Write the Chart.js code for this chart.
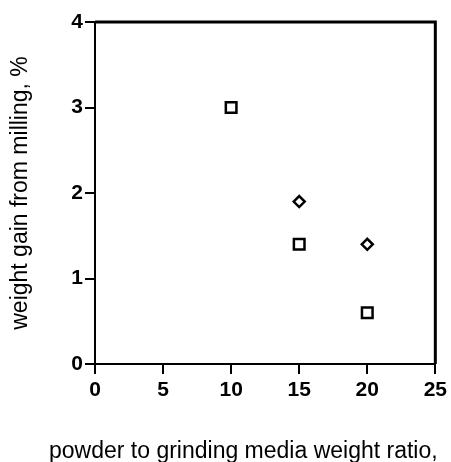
<!DOCTYPE html>
<html><head><meta charset="utf-8">
<script src="https://cdn.jsdelivr.net/npm/chart.js@4"></script>
<style>html,body{margin:0;padding:0;background:#fff}</style>
</head><body>
<canvas id="c" width="451" height="462"></canvas>
<script>
const xTicks = [0, 5, 10, 15, 20, 25];
const yTicks = [0, 1, 2, 3, 4];
const squareX = [10, 15, 20];
const squareY = [3, 1.4, 0.6];
const diamondX = [15, 20];
const diamondY = [1.9, 1.4];
const xTitle = 'powder to grinding media weight ratio,';
const yTitle = 'weight gain from milling, %';

const toPts = (xs, ys) => xs.map((x, i) => ({x: x, y: ys[i]}));

const framePlugin = {
  id: 'frame',
  afterDraw(chart) {
    const {ctx, chartArea: a} = chart;
    ctx.save();
    ctx.strokeStyle = '#000';
    ctx.lineWidth = 3;
    ctx.beginPath();
    ctx.moveTo(a.left, a.top);
    ctx.lineTo(a.right, a.top);
    ctx.lineTo(a.right, a.bottom);
    ctx.stroke();
    ctx.font = '23px "Liberation Sans", Arial, sans-serif';
    ctx.fillStyle = '#000';
    ctx.textAlign = 'left';
    ctx.textBaseline = 'alphabetic';
    ctx.fillText(xTitle, 49, a.bottom + 94);
    ctx.restore();
  }
};

const tickFont = {family: '"Liberation Sans", Arial, sans-serif', size: 21, weight: 'bold'};
const titleFont = {family: '"Liberation Sans", Arial, sans-serif', size: 23, weight: 'normal'};

new Chart(document.getElementById('c'), {
  type: 'scatter',
  data: {
    datasets: [
      {data: toPts(squareX, squareY), pointStyle: 'rect', pointRadius: 7.5, pointHoverRadius: 7.5,
       borderColor: '#000', backgroundColor: '#fff', borderWidth: 2.5},
      {data: toPts(diamondX, diamondY), pointStyle: 'rectRot', pointRadius: 5.5, pointHoverRadius: 5.5,
       borderColor: '#000', backgroundColor: '#fff', borderWidth: 2.5}
    ]
  },
  options: {
    responsive: false,
    animation: false,
    layout: {padding: {top: 22, right: 14, left: 0, bottom: 0}},
    plugins: {legend: {display: false}, tooltip: {enabled: false}},
    scales: {
      x: {
        type: 'linear', min: 0, max: 25,
        afterBuildTicks: s => { s.ticks = xTicks.map(v => ({value: v})); },
        afterFit: s => { s.height = 98; },
        grid: {drawOnChartArea: false, drawTicks: true, tickLength: 10, color: '#000', lineWidth: 2},
        border: {display: true, color: '#000', width: 2},
        ticks: {color: '#000', font: tickFont, padding: 4, maxRotation: 0},
        title: {display: false}
      },
      y: {
        type: 'linear', min: 0, max: 4,
        afterBuildTicks: s => { s.ticks = yTicks.map(v => ({value: v})); },
        afterFit: s => { s.width = 95; },
        grid: {drawOnChartArea: false, drawTicks: true, tickLength: 10, color: '#000', lineWidth: 2},
        border: {display: true, color: '#000', width: 2},
        ticks: {color: '#000', font: tickFont, padding: 2},
        title: {display: true, text: yTitle, color: '#000', font: titleFont, padding: {top: 7, bottom: 0}}
      }
    }
  },
  plugins: [framePlugin]
});
</script>
</body></html>
